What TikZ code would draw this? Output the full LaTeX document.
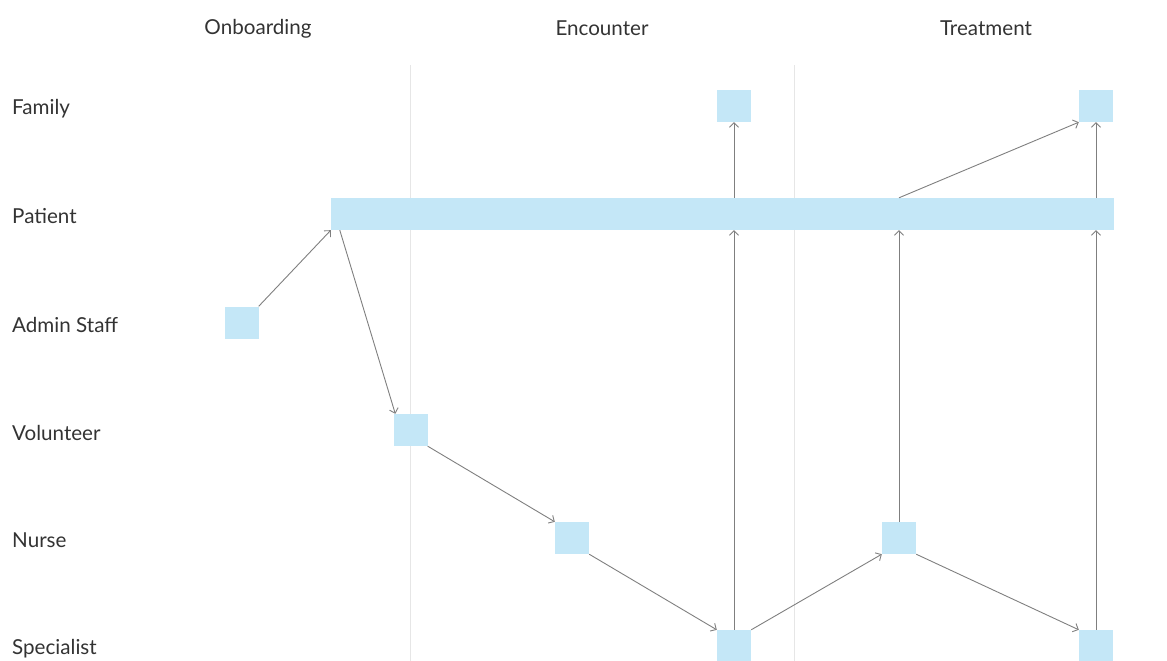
\documentclass[tikz,border=0pt]{standalone}
\usepackage{fontspec}
\setmainfont{Lato}
\usetikzlibrary{arrows.meta,calc}
\definecolor{boxblue}{HTML}{C4E7F7}
\definecolor{linegray}{HTML}{7F7F7F}
\definecolor{sepgray}{HTML}{E6E6E6}
\definecolor{txt}{HTML}{333333}
\begin{document}
\begin{tikzpicture}[x=1pt,y=-1pt,
  stepbox/.style={fill=boxblue,draw=none,minimum width=34pt,minimum height=32pt,inner sep=0pt},
  lanelabel/.style={anchor=west,inner sep=0pt,text=txt,font=\fontsize{20.6}{24}\selectfont},
  colhead/.style={inner sep=0pt,text=txt,font=\fontsize{20.6}{24}\selectfont},
  flow/.style={draw=linegray,line width=0.9pt,-{Straight Barb[length=4.5pt,width=9pt,line width=0.9pt]}},
  sep/.style={draw=sepgray,line width=1pt}]
\useasboundingbox (0,0) rectangle (1167,661);
% separators
\coordinate (s1t) at (410,65); \coordinate (s1b) at (410,661);
\coordinate (s2t) at (794,65); \coordinate (s2b) at (794,661);
\draw[sep] (s1t) -- (s1b);
\draw[sep] (s2t) -- (s2b);
% column headers
\node[colhead] (h1) at (258,28.5) {Onboarding};
\node[colhead] (h2) at (602,28.5) {Encounter};
\node[colhead] (h3) at (986,28.5) {Treatment};
% lane labels
\node[lanelabel] (lfam) at (12,108.5) {Family};
\node[lanelabel] (lpat) at (12,216.5) {Patient};
\node[lanelabel] (ladm) at (12,324.5) {Admin Staff};
\node[lanelabel] (lvol) at (12,432.5) {Volunteer};
\node[lanelabel] (lnur) at (12,540.5) {Nurse};
\node[lanelabel] (lspe) at (12,648.5) {Specialist};
% boxes
\node[stepbox,minimum width=783pt] (pat) at (722.5,214) {};
\node[stepbox] (adm) at (241.5,322.5) {};
\node[stepbox] (vol) at (410.5,430) {};
\node[stepbox] (nur1) at (572,538) {};
\node[stepbox] (spe1) at (734,646) {};
\node[stepbox] (fam1) at (734,106) {};
\node[stepbox] (nur2) at (899,538) {};
\node[stepbox] (spe2) at (1096,646) {};
\node[stepbox] (fam2) at (1096,106) {};
% connectors
\draw[flow] (adm.north east) -- (pat.south west);
\draw[flow] ([xshift=9pt]pat.south west) -- ([xshift=2pt]vol.north west);
\draw[flow] (vol.south east) -- (nur1.north west);
\draw[flow] (nur1.south east) -- (spe1.north west);
\draw[flow] (spe1.north) -- (spe1.north |- pat.south);
\draw[flow] (fam1.south |- pat.north) -- (fam1.south);
\draw[flow] (spe1.north east) -- (nur2.south west);
\draw[flow] (nur2.north) -- (nur2.north |- pat.south);
\draw[flow] (nur2.north |- pat.north) -- (fam2.south west);
\draw[flow] (nur2.south east) -- (spe2.north west);
\draw[flow] (spe2.north) -- (spe2.north |- pat.south);
\draw[flow] (fam2.south |- pat.north) -- (fam2.south);
\end{tikzpicture}
\end{document}
